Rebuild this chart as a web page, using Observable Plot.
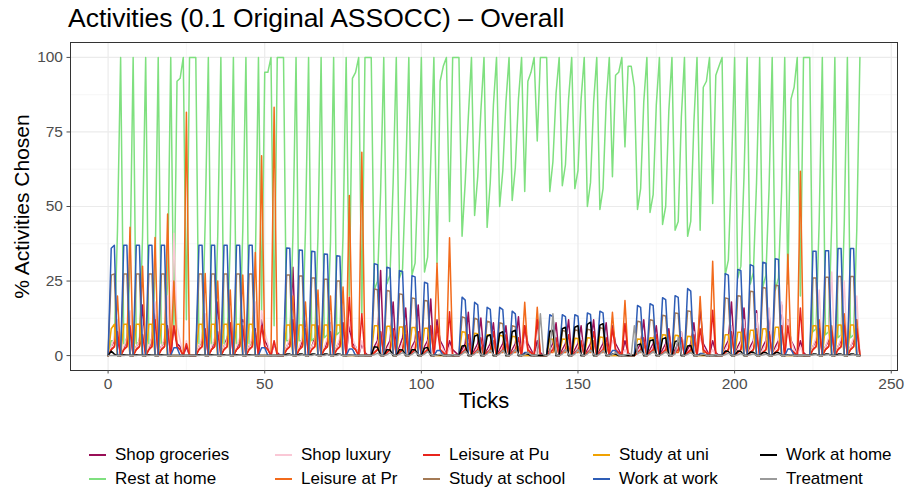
<!DOCTYPE html>
<html><head><meta charset="utf-8">
<script src="https://cdn.jsdelivr.net/npm/d3@7"></script>
<script src="https://cdn.jsdelivr.net/npm/@observablehq/plot@0.6"></script>
<style>
body{margin:0;background:#fff;font-family:"Liberation Sans",Arial,sans-serif;}
#wrap{position:relative;width:909px;height:490px;overflow:hidden;}
#title{height:41px;font-size:26.5px;line-height:36px;padding-left:68px;color:#000;white-space:nowrap;}
#chart svg{display:block;}
#legend{position:relative;height:68px;}
.item{position:absolute;height:22px;line-height:22px;font-size:17px;color:#000;white-space:nowrap;}
.key{position:absolute;width:17px;height:2px;}
</style></head><body>
<div id="wrap"><div id="title">Activities (0.1 Original ASSOCC) – Overall</div><div id="chart"></div><div id="legend"></div></div>
<script>
// ---- data (ticks 0..240, 4 ticks per day) ----
const activities = ["Shop groceries","Rest at home","Shop luxury","Leisure at Pr","Leisure at Pu","Study at school","Study at uni","Work at work","Work at home","Treatment"];
const activityColors = ["#990F57","#7FE07F","#FAC8D6","#F26A1B","#E8241C","#A47A55","#F0A202","#2E5DB6","#000000","#9A9A9A"];
const xTicks = [0,50,100,150,200,250];
const yTicks = [0,25,50,75,100];

const shopGroceries = [
0,3,5,6, 0,2,6,9, 0,3,5,17, 0,2,6,15, 0,3,5,10, 0,10,4,3, 0,3,0,0,
0,3,5,8, 0,2,5,18, 0,3,6,10, 0,2,5,12, 0,3,5,9, 0,12,5,3, 0,4,1,0,
0,3,5,29.6, 0,2,5,12, 0,3,6,10, 0,2,5,14, 0,3,5,11, 0,10,4,3, 0,4,1,0,
0,3,5,28.5, 0,3,5,18, 0,3,6,16, 0,3,5,17, 0,3,5,19, 0,12,5,3, 0,5,2,1,
0,2,4,14.5, 0,2,4,12.6, 0,2,4,11, 0,2,4,10, 0,2,4,13, 0,10,4,2, 0,5,1,0,
0,2,4,11, 0,2,4,12, 0,2,4,10, 0,2,4,12, 0,2,4,11, 0,10,4,2, 0,5,1,0,
0,2,4,12, 0,2,4,10, 0,2,4,9, 0,2,4,8, 0,2,4,11, 0,16,4,2, 0,5,1,0,
0,3,5,18, 0,3,5,16, 0,3,5,15, 0,3,5,14, 0,3,5,17, 0,12,5,3, 0,5,1,0,
0,3,5,10, 0,3,5,8, 0,3,5,11, 0,3,5,12,
0];

const restAtHome = [
0,5,5,42, 100,4,4,30, 100,4,4,40, 100,4,4,28, 100,4,4,25, 100,10,92,93, 100,12,100,100,
100,4,4,45, 100,4,4,40, 100,4,4,38, 100,4,4,42, 100,4,4,30, 100,15,95,95, 100,10,100,100,
100,5,5,40, 100,5,5,42, 100,5,6,40, 100,6,7,38, 100,7,8,40, 100,20,93,95, 100,14,100,100,
100,22,25,55, 100,24,27,58, 100,26,29,60, 100,27,31,62, 100,28,33,65, 100,31,92,97, 100,45,100,100,
100,40,58,80, 100,47,60,82, 100,43,58,84, 100,50,62,85, 100,52,63,86, 100,55,92,95, 100,72,100,100,
100,55,65,88, 100,57,64,86, 100,56,62,86, 100,50,58,85, 100,49,56,85, 100,60,94,95, 100,70,97,97,
90,49,56,85, 100,48,54,84, 100,44,50,82, 100,42,45,80, 100,40,45,78, 100,42,90,92, 100,51,94,97,
100,27,32,62, 100,26,30,60, 100,24,28,58, 100,23,27,56, 100,22,26,55, 100,24,86,90, 100,20,100,100,
100,8,9,45, 100,7,8,45, 100,6,7,44, 100,6,7,42,
100];

const shopLuxury = [
0,3,6,12, 0,3,6,15, 0,3,5,10, 0,3,6,18, 0,3,6,20, 0,41,10,5, 0,5,0,0,
0,3,6,14, 0,3,6,12, 0,3,5,16, 0,3,6,11, 0,3,6,18, 0,15,8,4, 0,5,0,0,
0,3,6,13, 0,3,6,15, 0,3,5,12, 0,3,6,14, 0,3,6,16, 0,12,6,3, 0,5,0,0,
0,2,4,8, 0,2,4,9, 0,2,4,7, 0,2,4,8, 0,2,4,9, 0,8,4,2, 0,3,0,0,
0,1,3,5, 0,1,3,6, 0,1,3,5, 0,1,3,4, 0,1,3,6, 0,5,3,1, 0,2,0,0,
0,1,3,5, 0,1,3,5, 0,1,3,6, 0,1,3,5, 0,1,3,5, 0,5,3,1, 0,2,0,0,
0,1,3,6, 0,1,3,6, 0,1,3,7, 0,1,3,8, 0,1,3,8, 0,6,3,1, 0,2,0,0,
0,2,4,10, 0,2,4,12, 0,2,4,14, 0,2,4,16, 0,2,4,18, 0,12,5,2, 0,3,0,0,
0,3,6,22, 0,3,6,28, 0,3,6,25, 0,3,6,20,
0];

const leisurePrivate = [
0,2,3,20, 0,2,3,43, 0,2,3,30, 0,2,3,39.6, 0,2,3,47.5, 0,25,3,2, 0,81.6,0,0,
0,2,3,27.5, 0,2,3,25, 0,2,3,22, 0,2,3,27, 0,2,3,34.6, 0,67,3,2, 0,83.3,0,0,
0,2,3,20, 0,2,3,18, 0,2,3,22, 0,2,3,20, 0,2,3,23, 0,53.7,3,2, 0,68.2,0,0,
0,1,2,8, 0,1,2,9, 0,1,2,10, 0,1,2,8, 0,1,2,9, 0,31,2,1, 0,39.5,0,0,
0,1,1,4, 0,1,1,3, 0,1,1,5, 0,1,1,4, 0,1,1,3, 0,17.9,1,1, 0,16.2,0,0,
0,1,1,4, 0,1,1,3, 0,1,1,4, 0,1,1,5, 0,1,1,4, 0,14.5,1,1, 0,18.5,0,0,
0,1,1,4, 0,1,1,5, 0,1,1,4, 0,1,1,6, 0,1,1,5, 0,19.8,1,1, 0,31.6,0,0,
0,1,2,7, 0,1,2,8, 0,1,2,9, 0,1,2,8, 0,1,2,10, 0,34,2,1, 0,61.8,0,0,
0,2,3,12, 0,2,3,10, 0,2,3,14, 0,2,3,12,
0];

const leisurePublic = [
0,2,3,8, 0,2,3,10, 0,2,3,7, 0,2,3,12, 0,2,3,9, 0,10,3,2, 0,4,0,0,
0,2,3,9, 0,2,3,8, 0,2,3,11, 0,2,3,10, 0,2,3,8, 0,10,3,2, 0,5,0,0,
0,2,3,12, 0,2,3,9, 0,2,3,10, 0,2,3,8, 0,2,3,11, 0,19.6,3,2, 0,14,0,0,
0,1,2,8, 0,1,2,9, 0,1,2,7, 0,1,2,8, 0,1,2,10, 0,10,2,1, 0,14.7,0,0,
0,1,2,7, 0,1,2,6, 0,1,2,8, 0,1,2,7, 0,1,2,6, 0,10,2,1, 0,12,0,0,
0,1,2,6, 0,1,2,7, 0,1,2,5, 0,1,2,8, 0,1,2,6, 0,9,2,1, 0,10.8,0,0,
0,1,2,6, 0,1,2,7, 0,1,2,8, 0,1,2,6, 0,1,2,7, 0,9,2,1, 0,15.2,0,0,
0,1,2,8, 0,1,2,9, 0,1,2,7, 0,1,2,8, 0,1,2,10, 0,10,2,1, 0,16,0,0,
0,2,3,9, 0,2,3,8, 0,2,3,10, 0,2,3,9,
0];

const studySchool = [
0,27,27.4,0, 0,27.4,27.4,0, 0,27.4,27.4,0, 0,27.4,27.4,0, 0,27.4,27.4,0, 0,0,0,0, 0,0,0,0,
0,27.4,27.4,0, 0,27.4,27.4,0, 0,27.4,27.4,0, 0,27.4,27.4,0, 0,27.4,27.4,0, 0,0,0,0, 0,0,0,0,
0,27,27,0, 0,26.7,26.7,0, 0,26,26,0, 0,25.6,25.6,0, 0,25,25,0, 0,0,0,0, 0,0,0,0,
0,22.3,22.1,0, 0,21.8,21.6,0, 0,20.7,20.5,0, 0,19.3,19.1,0, 0,18.5,18.3,0, 0,0,0,0, 0,0,0,0,
0,13,12.6,0, 0,12.5,12.1,0, 0,11.5,11.2,0, 0,11,10.7,0, 0,10,9.7,0, 0,0,0,0, 0,0,0,0,
0,8.4,8.2,0, 0,8.4,8.2,0, 0,8.6,8.4,0, 0,8.8,8.6,0, 0,9.3,9.1,0, 0,0,0,0, 0,0,0,0,
0,11.5,11.3,0, 0,12,11.8,0, 0,13.5,13.3,0, 0,14.3,14.1,0, 0,15,14.8,0, 0,0,0,0, 0,0,0,0,
0,19.3,19.1,0, 0,20.1,19.9,0, 0,21.6,21.4,0, 0,22.8,22.6,0, 0,23.6,23.4,0, 0,0,0,0, 0,0,0,0,
0,26,26,0, 0,26.3,26.3,0, 0,26.5,26.5,0, 0,26.5,26.5,0,
0];

const studyUni = [
0,9,10.5,0, 0,10.5,10.5,0, 0,10.5,10.5,0, 0,10.5,10.5,0, 0,10.5,10.5,0, 0,0,0,0, 0,0,0,0,
0,10.5,10.5,0, 0,10.5,10.5,0, 0,10.5,10.5,0, 0,10.5,10.5,0, 0,10.5,10.5,0, 0,0,0,0, 0,0,0,0,
0,10.3,10.3,0, 0,10.3,10.3,0, 0,10.3,10.3,0, 0,10.3,10.3,0, 0,10.3,10.3,0, 0,0,0,0, 0,0,0,0,
0,10,10,0, 0,9.8,9.8,0, 0,9.6,9.6,0, 0,9.4,9.4,0, 0,9.2,9.2,0, 0,0,0,0, 0,0,0,0,
0,8,7.8,0, 0,7.5,7.3,0, 0,7,6.8,0, 0,6.8,6.6,0, 0,6.5,6.3,0, 0,0,0,0, 0,0,0,0,
0,5.6,5.5,0, 0,5.6,5.5,0, 0,5.8,5.7,0, 0,6,5.9,0, 0,6.2,6.1,0, 0,0,0,0, 0,0,0,0,
0,5.6,5.5,0, 0,6,5.9,0, 0,7,6.9,0, 0,6.8,6.7,0, 0,6.5,6.4,0, 0,0,0,0, 0,0,0,0,
0,7,7,0, 0,7.8,7.8,0, 0,8.5,8.5,0, 0,9,9,0, 0,9.5,9.5,0, 0,0,0,0, 0,0,0,0,
0,10,10,0, 0,10,10,0, 0,10.3,10.3,0, 0,10.3,10.3,0,
0];

const workAtWork = [
0,36,37,0, 0,37,37,0, 0,37,37,0, 0,37,37,0, 0,37,37,0, 0,2.6,2.6,0, 0,0,0,0,
0,37,37,0, 0,37,37,0, 0,37,37,0, 0,37,37,0, 0,37,37,0, 0,2.6,2.6,0, 0,0,0,0,
0,36.1,36,0, 0,35.4,35.3,0, 0,35,34.8,0, 0,34.1,34,0, 0,33.5,33.3,0, 0,2.2,2.2,0, 0,0,0,0,
0,30.8,30.5,0, 0,29.6,29.3,0, 0,28.5,28.2,0, 0,26.8,26.4,0, 0,24.6,24.2,0, 0,1.7,1.7,0, 0,0,0,0,
0,19.6,18.6,0, 0,17.9,17,0, 0,16.2,15.5,0, 0,16.2,15.4,0, 0,14.9,14,0, 0,1,1,0, 0,0,0,0,
0,13.7,13.1,0, 0,13.7,13.1,0, 0,13.7,13.2,0, 0,14.3,13.8,0, 0,14.9,14.3,0, 0,1.7,1.7,0, 0,0,0,0,
0,16.8,16.2,0, 0,17.4,16.8,0, 0,19.4,18.8,0, 0,20.1,19.5,0, 0,22.5,21.6,0, 0,0.7,0.7,0, 0,0,0,0,
0,27.5,27,0, 0,28.9,28.5,0, 0,30.5,30,0, 0,31.3,31,0, 0,32.5,32.2,0, 0,2.2,2.2,0, 0,0,0,0,
0,35,35,0, 0,35.2,35.2,0, 0,35.9,35.9,0, 0,35.9,35.9,0,
0];

const workAtHome = [
0,1.5,0.5,0, 0,0.3,0.3,0, 0,0.3,0.3,0, 0,0.3,0.3,0, 0,0.3,0.3,0, 0,0,0,0, 0,0,0,0,
0,0.3,0.3,0, 0,0.3,0.3,0, 0,0.3,0.3,0, 0,0.3,0.3,0, 0,0.3,0.3,0, 0,0,0,0, 0,0,0,0,
0,0.5,0.5,0, 0,0.5,0.5,0, 0,0.5,0.5,0, 0,0.5,0.5,0, 0,0.5,0.5,0, 0,0.1,0.1,0, 0,0,0,0,
0,3,2.8,0, 0,2,1.9,0, 0,2,1.9,0, 0,2,2,0, 0,2.5,2.7,0, 0,0.3,0.3,0, 0,0,0,0,
0,3.2,3.4,0, 0,6.5,7,0, 0,6.5,7,0, 0,7.5,8,0, 0,8,8.5,0, 0,0.5,0.5,0, 0,0,0,0,
0,8,8.5,0, 0,9,9.5,0, 0,9.5,10,0, 0,10.5,11.2,0, 0,10.2,10.7,0, 0,0.5,0.5,0, 0,0,0,0,
0,3.6,3.9,0, 0,5,5.3,0, 0,5.6,6,0, 0,4.7,5,0, 0,3.2,3.4,0, 0,0.3,0.3,0, 0,0,0,0,
0,1.5,1.4,0, 0,1.5,1.4,0, 0,1.2,1.1,0, 0,1,1,0, 0,1,1,0, 0,0.2,0.2,0, 0,0,0,0,
0,0.5,0.5,0, 0,0.5,0.5,0, 0,0.5,0.5,0, 0,0.5,0.5,0,
0];

const treatment = [
0,0,0,0, 0,0,0.2,0, 0,0,0.2,0, 0,0,0.2,0, 0,0,0.2,0, 0,0,0,0, 0,0,0,0,
0,0,0.2,0, 0,0,0.2,0, 0,0,0.3,0, 0,0,0.2,0, 0,0,0.2,0, 0,0,0,0, 0,0,0,0,
0,0,0.3,0, 0,0,0.3,0, 0,0,0.4,0, 0,0,0.4,0, 0,0,0.5,0, 0,0,0.2,0, 0,0,0,0,
0,0.3,0.8,0.2, 0,0.3,0.9,0.2, 0,0.4,1,0.2, 0,0.4,1.2,0.3, 0,0.5,1.3,0.3, 0,0.2,0.5,0.1, 0,0.1,0.3,0,
0,0.5,1.5,0.3, 0,0.5,1.6,0.3, 0,0.5,1.8,0.3, 0,0.5,1.8,0.3, 0,0.5,2,0.3, 0,0.3,1,0.2, 0,0.2,14,0.3,
0,0.5,14,0.3, 0,0.5,2,0.3, 0,0.5,2,0.3, 0,0.5,1.8,0.3, 0,0.5,1.6,0.3, 0,0.3,1,0.2, 0,0.2,0.5,0.2,
10,0.5,1.5,0.3, 0,0.5,1.4,0.3, 0,0.5,1.3,0.3, 0,0.5,6,0.3, 0,0.4,1,0.2, 0,0.2,0.5,0.1, 0,0.1,0.3,0,
0,0.3,0.8,0.2, 0,0.3,0.7,0.2, 0,0.3,0.6,0.1, 0,0.2,0.5,0.1, 0,0.2,0.5,0.1, 0,0.1,0.3,0, 0,0,0.2,0,
0,0.2,0.4,0, 0,0.2,0.4,0, 0,0.1,0.3,0, 0,0.1,0.3,0,
0];

// ---- build table ----
const seriesByActivity = {
  "Shop groceries": shopGroceries, "Rest at home": restAtHome, "Shop luxury": shopLuxury,
  "Leisure at Pr": leisurePrivate, "Leisure at Pu": leisurePublic, "Study at school": studySchool,
  "Study at uni": studyUni, "Work at work": workAtWork, "Work at home": workAtHome, "Treatment": treatment
};
const rows = activities.flatMap(a => seriesByActivity[a].map((v, i) => ({tick: i, value: v, activity: a})));

const minorX = [25,75,125,175,225];
const minorY = [12.5,37.5,62.5,87.5];

const chart = Plot.plot({
  width: 909, height: 381,
  marginTop: 1, marginBottom: 52, marginLeft: 70, marginRight: 12,
  x: {domain: [-12, 252]},
  y: {domain: [-5, 105]},
  color: {domain: activities, range: activityColors},
  style: {fontFamily: "'Liberation Sans', Arial, sans-serif", background: "#fff", overflow: "visible"},
  marks: [
    Plot.gridX(minorX, {stroke: "#f4f4f4", strokeOpacity: 1, strokeWidth: 0.7}),
    Plot.gridY(minorY, {stroke: "#f4f4f4", strokeOpacity: 1, strokeWidth: 0.7}),
    Plot.gridX(xTicks, {stroke: "#ebebeb", strokeOpacity: 1, strokeWidth: 1.2}),
    Plot.gridY(yTicks, {stroke: "#ebebeb", strokeOpacity: 1, strokeWidth: 1.2}),
    Plot.line(rows, {x: "tick", y: "value", z: "activity", stroke: "activity", strokeWidth: 1.5, strokeLinejoin: "round"}),
    Plot.frame({stroke: "#333333", strokeWidth: 1}),
    Plot.axisX(xTicks, {tickSize: 3.5, tickPadding: 4, fontSize: 15.5, color: "#4d4d4d", label: null}),
    Plot.axisY(yTicks, {tickSize: 3.5, tickPadding: 4, fontSize: 15.5, color: "#4d4d4d", label: null}),
    Plot.text(["Ticks"], {frameAnchor: "bottom", dy: 37, fontSize: 22, fill: "#000", text: d => d}),
    Plot.text(["% Activities Chosen"], {frameAnchor: "left", textAnchor: "middle", dx: -48, rotate: -90, fontSize: 21, fill: "#000", text: d => d})
  ]
});
document.getElementById("chart").appendChild(chart);

// ---- legend (2 rows, filled by column) ----
const legendTextLeft = [115, 301, 449, 619, 786];
const legendRowTop = [22, 46];
const legend = document.getElementById("legend");
activities.forEach((a, i) => {
  const col = Math.floor(i / 2), row = i % 2;
  const key = document.createElement("div");
  key.className = "key";
  key.style.background = activityColors[i];
  key.style.left = (legendTextLeft[col] - 26) + "px";
  key.style.top = (legendRowTop[row] + 10) + "px";
  legend.appendChild(key);
  const item = document.createElement("div");
  item.className = "item";
  item.style.left = legendTextLeft[col] + "px";
  item.style.top = legendRowTop[row] + "px";
  item.textContent = a;
  legend.appendChild(item);
});
</script></body></html>
